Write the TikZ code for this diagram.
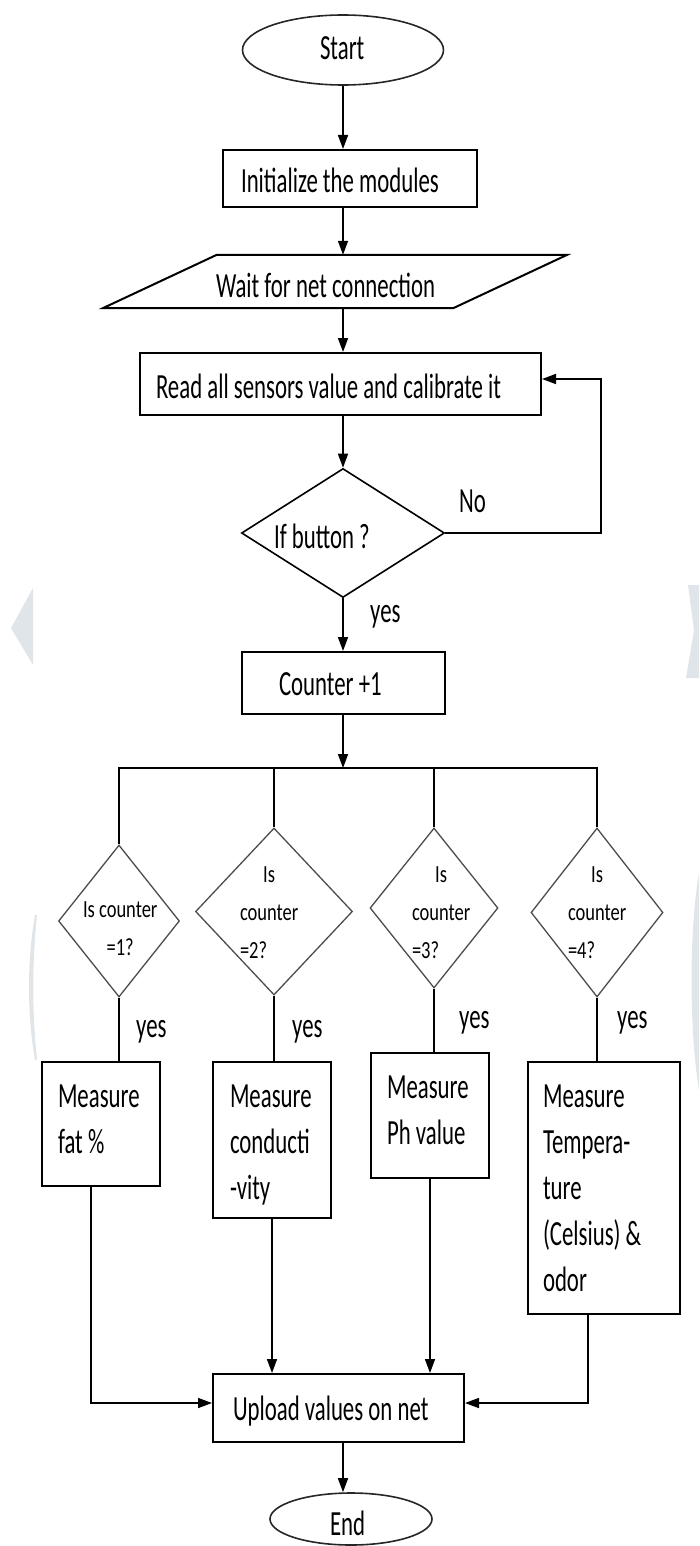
\documentclass[tikz,border=0pt]{standalone}
\usepackage{fontspec}
\setmainfont{Carlito}
\usetikzlibrary{shapes.geometric,arrows.meta,calc}
\definecolor{wm}{RGB}{224,229,234}
\newcommand\mfont{\fontsize{22.8}{29.7}\selectfont}
\newcommand\dfont{\fontsize{18.5}{28.6}\selectfont}
% main text placed relative to node centre: left offset, raise of first baseline
\newcommand\mtxt[3]{\makebox[0pt][l]{\hspace*{#1pt}\raisebox{#2pt}[0pt][0pt]{\scalebox{1}[1.55]{\mfont\begin{tabular}[t]{@{}l@{}}#3\end{tabular}}}}}
\newcommand\dtxt[4]{\makebox[0pt][l]{\hspace*{#1pt}\raisebox{#2pt}[0pt][0pt]{\scalebox{1}[1.33]{\dfont\begin{tabular}[t]{@{}#3@{}}#4\end{tabular}}}}}
\newcommand\lab[1]{\scalebox{1}[1.55]{\mfont #1}}
\begin{document}
\begin{tikzpicture}[x=1pt,y=-1pt,
  box/.style={draw, line width=2pt, rectangle, inner sep=0pt},
  term/.style={draw=black!85, line width=1.6pt, ellipse, inner sep=0pt},
  dec/.style={draw, line width=1.6pt, diamond, inner sep=0pt},
  cdec/.style={draw=black!70, line width=1.3pt, diamond, inner sep=0pt},
  lbl/.style={inner sep=0pt, anchor=base west},
  conn/.style={line width=1.6pt},
  arr/.style={conn, -{Triangle[length=14pt,width=10pt]}}]
\useasboundingbox (0,0) rectangle (699,1546);
% faint watermark
\fill[wm] (33,588) -- (11,628) -- (33,665) -- cycle;
\fill[wm] (35,915) .. controls (27,960) and (27,1015) .. (35,1060) -- (37,1060) .. controls (32,1010) and (32,965) .. (37,915) -- cycle;
\fill[wm] (688,585) -- (699,585) -- (699,678) -- (686,678) -- (694,630) -- cycle;
\fill[wm] (699,873) .. controls (689,930) and (689,1030) .. (699,1090) -- cycle;

% nodes
\node[term, minimum width=201pt, minimum height=70pt] (Start) at (343,50) {\mtxt{-23}{-10}{Start}};
\node[box, minimum width=254pt, minimum height=57pt] (Init) at (350,178.5) {\mtxt{-109}{-14.5}{Initialize the modules}};
\node[inner sep=0pt, minimum width=350pt, minimum height=53pt] (Wait) at (335,281.5) {\mtxt{-119}{-15.5}{Wait for net connection}};
\draw[line width=2pt] ($(Wait.south west)+(-57,0)$) -- ($(Wait.north west)+(57,0)$) -- ($(Wait.north east)+(57,0)$) -- ($(Wait.south east)+(-57,0)$) -- cycle;
\node[box, minimum width=401pt, minimum height=62pt] (Read) at (340.5,384) {\mtxt{-184.5}{-14}{Read all sensors value and calibrate it}};
\node[dec, minimum width=203pt, minimum height=129pt] (If) at (343,533) {\mtxt{-69}{-15}{If button ?}};
\node[box, minimum width=203pt, minimum height=62pt] (Counter) at (343,683) {\mtxt{-64}{-12}{Counter +1}};

\node[cdec, minimum width=121pt, minimum height=152pt] (D1) at (119,921) {\dtxt{-36}{4}{c}{Is counter\\=1?}};
\node[cdec, minimum width=157pt, minimum height=167pt] (D2) at (274,911.5) {\dtxt{-34}{29.5}{l}{\multicolumn{1}{@{}c@{}}{Is}\\counter\\=2?}};
\node[cdec, minimum width=128pt, minimum height=160pt] (D3) at (434,908) {\dtxt{-22}{26}{l}{\multicolumn{1}{@{}c@{}}{Is}\\counter\\=3?}};
\node[cdec, minimum width=132pt, minimum height=169pt] (D4) at (597,912.5) {\dtxt{-29}{30.5}{l}{\multicolumn{1}{@{}c@{}}{Is}\\counter\\=4?}};

\node[box, minimum width=118pt, minimum height=124pt] (B1) at (101,1124) {\mtxt{-43}{17}{Measure\\fat \%}};
\node[box, minimum width=118pt, minimum height=156pt] (B2) at (272,1140) {\mtxt{-42}{33}{Measure\\conducti\\-vity}};
\node[box, minimum width=118pt, minimum height=125pt] (B3) at (430,1115.5) {\mtxt{-43}{17.5}{Measure\\Ph value}};
\node[box, minimum width=152pt, minimum height=252pt] (B4) at (604,1188) {\mtxt{-61}{81}{Measure\\Tempera-\\ture\\(Celsius) \&\\odor}};
\node[box, minimum width=251pt, minimum height=68pt] (Upload) at (338.5,1408) {\mtxt{-105.5}{-12}{Upload values on net}};
\node[term, minimum width=162pt, minimum height=52pt] (End) at (351,1519) {\mtxt{-21}{-16}{End}};

% labels
\node[lbl] (no) at (459,512) {\lab{No}};
\node[lbl] (yes0) at (370,622) {\lab{yes}};
\node[lbl] (yes1) at (136,1037) {\lab{yes}};
\node[lbl] (yes2) at (292,1037) {\lab{yes}};
\node[lbl] (yes3) at (459,1028) {\lab{yes}};
\node[lbl] (yes4) at (617,1028) {\lab{yes}};

% connectors
\coordinate (ax) at (343,0);
\coordinate (lp) at (601,379);
\coordinate (bar) at (343,768);
\coordinate (uy) at (0,1403);
\draw[arr] (Start.south) -- (ax |- Init.north);
\draw[arr] (ax |- Init.south) -- (ax |- Wait.north);
\draw[arr] (ax |- Wait.south) -- (ax |- Read.north);
\draw[arr] (ax |- Read.south) -- (If.north);
\draw[arr] (If.east) -| (lp) -- (Read.east |- lp);
\draw[arr] (If.south) -- (Counter.north);
\draw[arr] (Counter.south) -- (bar);
\draw[conn] (D1.north) |- (bar) -| (D4.north);
\draw[conn] (D2.north) -- (D2.north |- bar);
\draw[conn] (D3.north) -- (D3.north |- bar);
\draw[conn] (D1.south) -- (D1.south |- B1.north);
\draw[conn] (D2.south) -- (D2.south |- B2.north);
\draw[conn] (D3.south) -- (D3.south |- B3.north);
\draw[conn] (D4.south) -- (D4.south |- B4.north);
\draw[arr] ([xshift=-10pt]B1.south) |- (Upload.west |- uy);
\draw[arr] (B2.south) -- (B2.south |- Upload.north);
\draw[arr] (B3.south) -- (B3.south |- Upload.north);
\draw[arr] ([xshift=-16pt]B4.south) |- (Upload.east |- uy);
\draw[arr] (ax |- Upload.south) -- (ax |- End.north);
\end{tikzpicture}
\end{document}
